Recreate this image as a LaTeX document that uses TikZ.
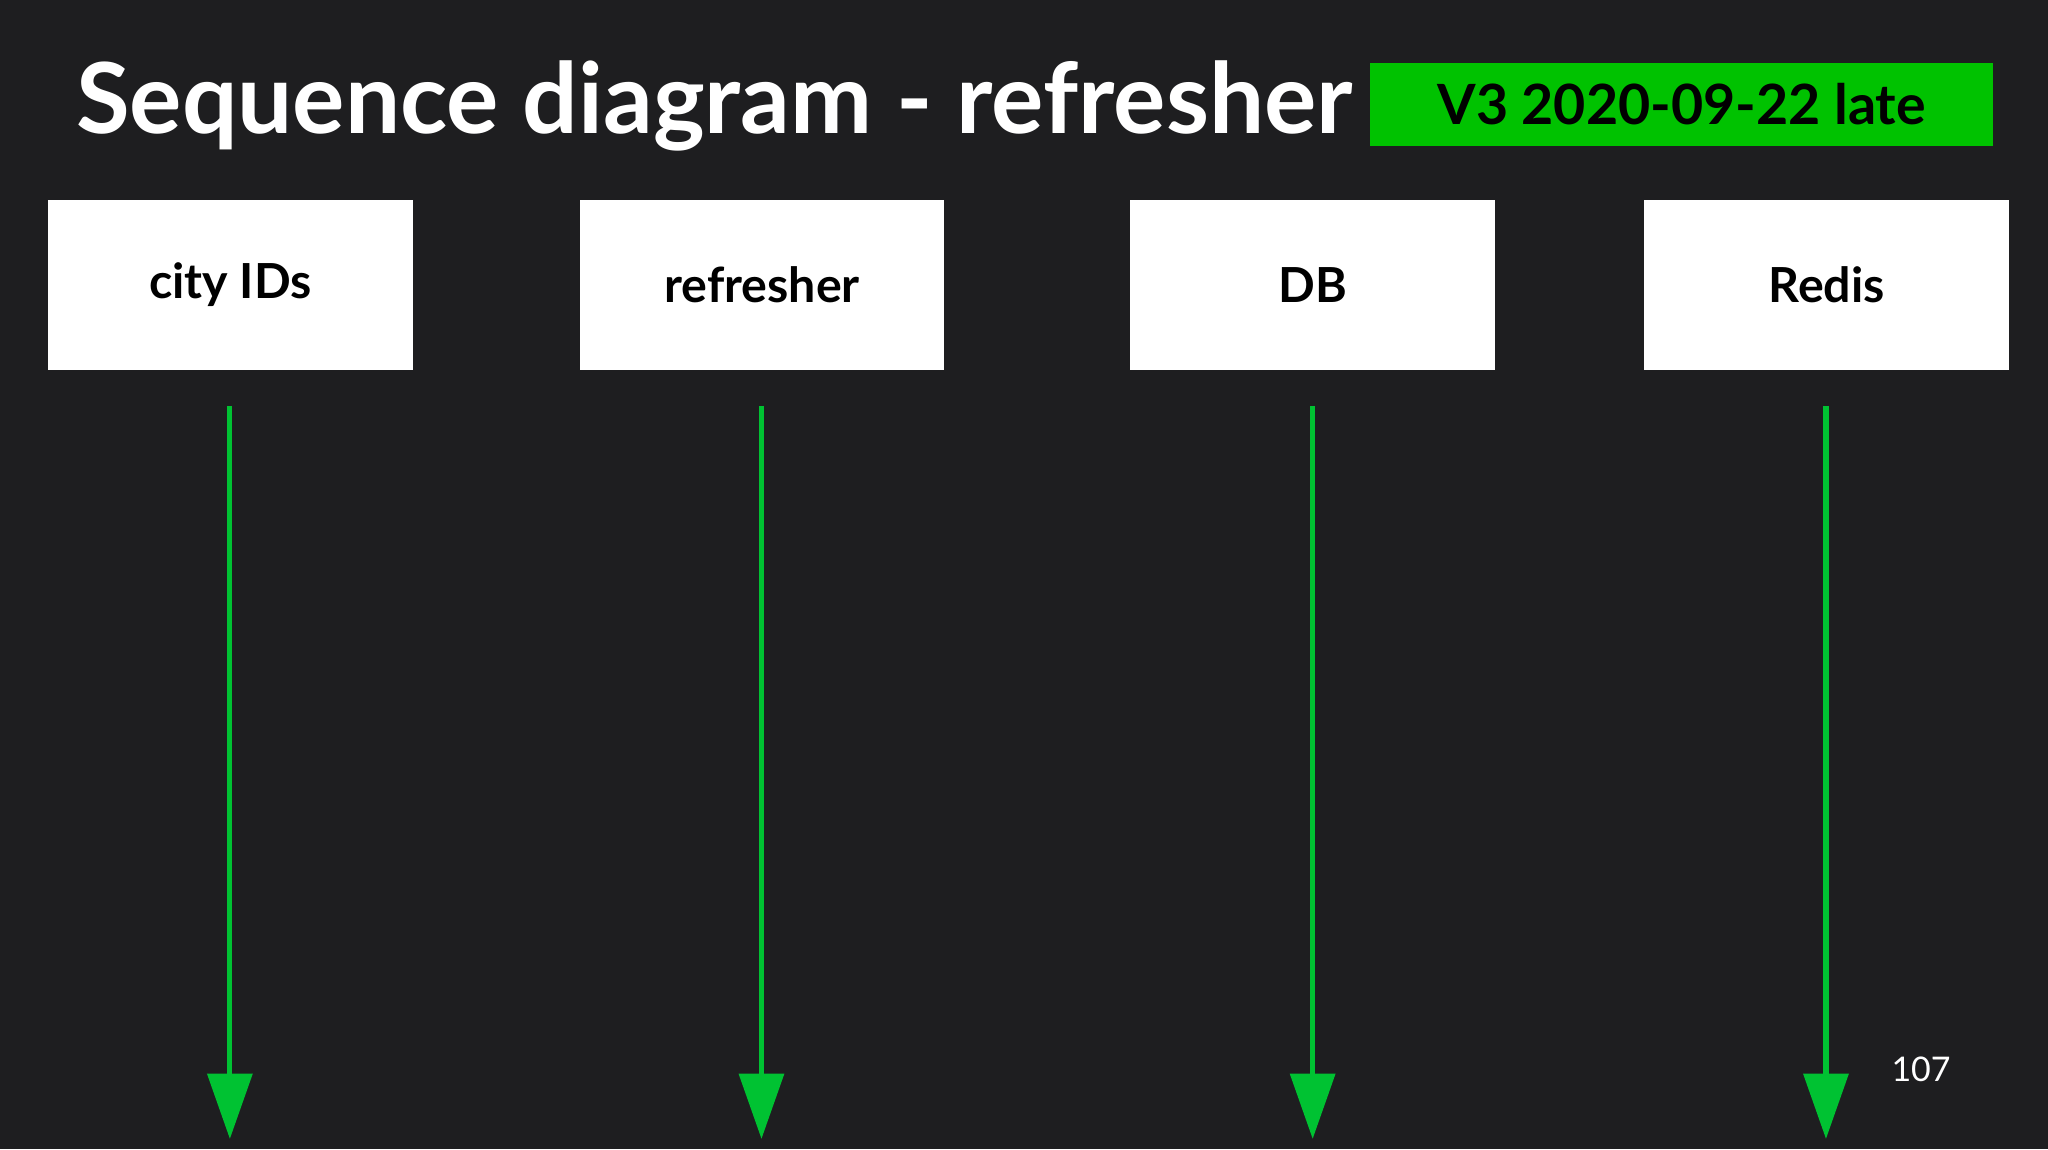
\documentclass[tikz,border=0pt]{standalone}
\usepackage{fontspec}
\setmainfont{Lato}
\usetikzlibrary{arrows.meta}
\definecolor{bg}{HTML}{1E1E20}
\definecolor{tagg}{HTML}{00C200}
\definecolor{lifeg}{HTML}{00C232}
\begin{document}
\begin{tikzpicture}[x=1pt,y=-1pt,
  actor/.style={fill=white,minimum width=279pt,minimum height=130pt,inner sep=0,font=\bfseries\fontsize{37}{40}\selectfont,text=black},
  life/.style={draw=lifeg,line width=4pt,-{Triangle[width=34pt,length=50pt]}}]
\fill[bg] (0,0) rectangle (1568,880);
\useasboundingbox (0,0) rectangle (1568,880);
\node[anchor=base west,text=white,font=\bfseries\fontsize{75}{80}\selectfont,inner sep=0] (title) at (58,102) {Sequence diagram - refresher};
\node[fill=tagg,minimum width=477pt,minimum height=64pt,inner sep=0,font=\bfseries\fontsize{42.5}{46}\selectfont,text=black] (tag) at (1287.5,80) {V3 2020-09-22 late};
\node[actor] (a) at (176.5,218) {city IDs};
\node[actor] (b) at (583.5,218) {refresher};
\node[actor] (c) at (1005,218) {DB};
\node[actor] (d) at (1398.5,218) {Redis};
\foreach \n/\x in {a/176,b/583,c/1005,d/1398}{
  \coordinate (\n e) at (\x,872);
  \draw[life] (\x,311) -- (\n e);
}
\node[anchor=base west,text=white,font=\fontsize{26}{30}\selectfont,inner sep=0] (pg) at (1448,828) {107};
\end{tikzpicture}
\end{document}
